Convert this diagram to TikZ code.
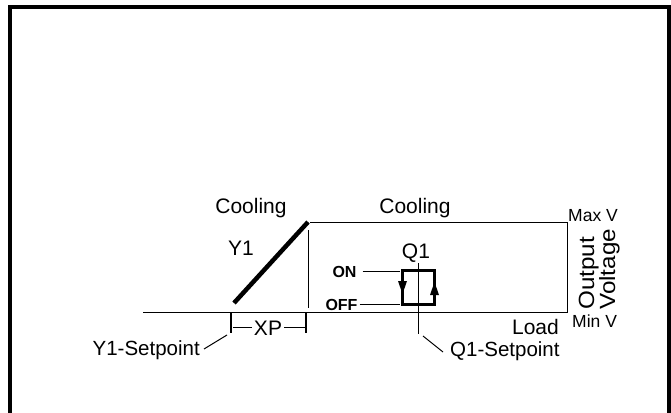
\documentclass[tikz,border=0pt]{standalone}
\usepackage{fontspec}
\setmainfont{Liberation Sans}
\begin{document}
\begin{tikzpicture}[x=1pt,y=-1pt,
  lbl/.style={inner sep=0pt,font=\fontsize{21}{25}\selectfont},
  lblsp/.style={inner sep=0pt,font=\fontsize{20.5}{24}\selectfont},
  lblsmall/.style={inner sep=0pt,font=\fontsize{17.5}{21}\selectfont},
  lblbold/.style={inner sep=0pt,font=\fontsize{16}{19}\selectfont\bfseries},
  lblbig/.style={inner sep=0pt,font=\fontsize{22}{26}\selectfont},
  thin line/.style={line width=1pt},
  tick/.style={line width=2pt},
  hyst/.style={line width=3pt,line join=miter},
  border/.style={line width=3.5pt}]
\useasboundingbox (0,0) rectangle (671,412);
% border (bottom edge off picture)
\draw[border] (10,415) -- (10,7) -- (669,7) -- (669,415);

% axes
\coordinate (axL) at (143,312);
\coordinate (axR) at (567,312);
\coordinate (topL) at (310,222);
\coordinate (topR) at (567,222);
\draw[thin line] (axL) -- (axR) -- (topR) -- (topL);

% Y1 ramp
\coordinate (rampA) at (234,303);
\coordinate (rampB) at (308,222);
\draw[line width=4.5pt] (rampA) -- (rampB);
\coordinate (vA) at (308,230);
\coordinate (vB) at (308,308);
\draw[thin line] (vA) -- (vB);

% XP bracket
\coordinate (t1a) at (231,313);
\coordinate (t1b) at (231,333);
\coordinate (t2a) at (306,313);
\coordinate (t2b) at (306,333);
\draw[tick] (t1a) -- (t1b);
\draw[tick] (t2a) -- (t2b);
\node[lbl,anchor=base] (xp) at (268,335) {XP};
\coordinate (xpl) at (233,327);
\coordinate (xpr) at (305,327);
\draw[thin line] (xpl) -- ([xshift=-2pt]xp.west|-xpl);
\draw[thin line] ([xshift=2pt]xp.east|-xpr) -- (xpr);

% texts
\node[lbl,anchor=base] (cool1) at (251,213) {Cooling};
\node[lbl,anchor=base] (cool2) at (415,213) {Cooling};
\node[lbl,anchor=base] (y1) at (241,255) {Y1};
\node[lbl,anchor=base] (q1) at (416,258) {Q1};
\node[lblsmall,anchor=base west] (maxv) at (568,221) {Max V};
\node[lblsmall,anchor=base west] (minv) at (572,327) {Min V};
\node[lbl,anchor=base east] (load) at (559,334) {Load};
\node[lblbig,anchor=base west,rotate=90] (outp) at (594,310) {\scalebox{1.1}[1]{Output}};
\node[lblbig,anchor=base west,rotate=90] (volt) at (615,310) {\scalebox{1.1}[1]{Voltage}};

% setpoints
\node[lblsp,anchor=base east] (y1sp) at (200,355) {Y1-Setpoint};
\coordinate (y1la) at (204,349);
\coordinate (y1lb) at (227,335);
\draw[thin line] (y1la) -- (y1lb);
\node[lblsp,anchor=base west] (q1sp) at (450,356) {Q1-Setpoint};
\coordinate (q1la) at (423,336);
\coordinate (q1lb) at (443,352);
\draw[thin line] (q1la) -- (q1lb);

% hysteresis
\coordinate (hTL) at (402.5,270.5);
\coordinate (hBR) at (434.5,304.5);
\draw[hyst] (hTL) rectangle (hBR);
\coordinate (qa) at (418,263);
\coordinate (qb) at (418,334);
\draw[thin line] (qa) -- (qb);
\fill (398,281) -- (407,281) -- (402.5,294) -- cycle;
\fill (430,295) -- (439,295) -- (434.5,282) -- cycle;
\node[lblbold,anchor=base] (on) at (344.5,277) {ON};
\node[lblbold,anchor=base] (off) at (341.5,310) {OFF};
\coordinate (onE) at (400,271);
\coordinate (offE) at (400,304);
\draw[thin line] ([xshift=6pt]on.east|-onE) -- (onE);
\draw[thin line] ([xshift=2pt]off.east|-offE) -- (offE);
\end{tikzpicture}
\end{document}
